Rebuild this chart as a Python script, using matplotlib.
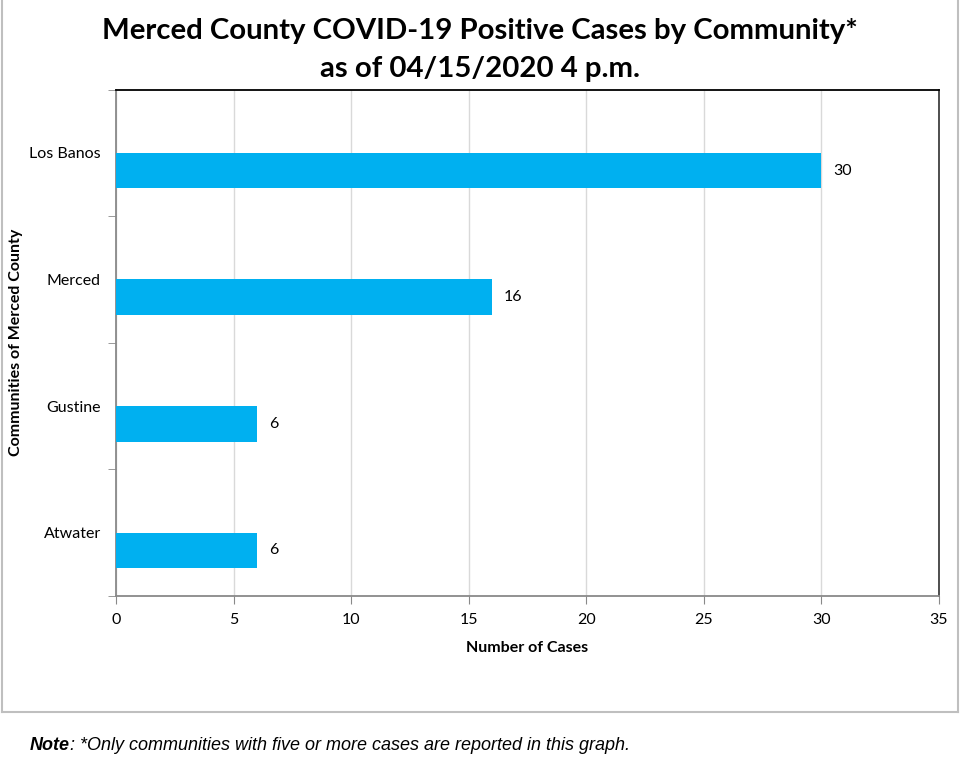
import matplotlib.pyplot as plt
from matplotlib.lines import Line2D

# data
communities = ['Atwater', 'Gustine', 'Merced', 'Los Banos']
cases = [6, 6, 16, 30]
x_ticks = [0, 5, 10, 15, 20, 25, 30, 35]

plt.rcParams['font.family'] = ['Lato', 'DejaVu Sans']

fig = plt.figure(figsize=(9.6, 7.59), dpi=100)
ax = fig.add_axes([116/960, 1-596/759, (939-116)/960, (596-89.5)/759])

y = list(range(len(communities)))
bar_h = 0.28
# bars sit just below the category centre, like the Excel original
ax.barh(y, cases, height=-bar_h, align='edge', color='#00B0F0', zorder=3)

for yi, v in zip(y, cases):
    ax.text(v + 0.5, yi - bar_h / 2, str(v), va='center', ha='left', fontsize=11.5, color='black')

ax.set_xlim(0, 35)
ax.set_ylim(-0.5, len(communities) - 0.5)
ax.set_xticks(x_ticks)
ax.set_xticklabels([str(t) for t in x_ticks], fontsize=11.5)
ax.set_yticks(y)
ax.set_yticklabels(communities, fontsize=11.5)
ax.tick_params(axis='y', which='major', length=0, pad=11)
ax.tick_params(axis='x', length=6, color='#898989', pad=6)

# tick marks between categories on y axis
ax.set_yticks([i - 0.5 for i in range(len(communities) + 1)], minor=True)
ax.tick_params(axis='y', which='minor', length=6, color='#898989')

ax.grid(True, axis='x', color='#D9D9D9', linewidth=1, zorder=0)

ax.spines['top'].set_color('black')
ax.spines['right'].set_color('#404040')
ax.spines['left'].set_color('#898989')
ax.spines['bottom'].set_color('#898989')
for s in ax.spines.values():
    s.set_linewidth(1.3)

ax.set_xlabel('Number of Cases', fontsize=11.5, fontweight='bold', labelpad=10)
ax.set_ylabel('Communities of Merced County', fontsize=11.5, fontweight='bold')
ax.yaxis.set_label_coords(-(116 - 23) / 823, 0.5)

fig.text(0.5, 1-31/759, 'Merced County COVID-19 Positive Cases by Community*',
         ha='center', va='center', fontsize=21.2, fontweight='bold')
fig.text(0.5, 1-69/759, 'as of 04/15/2020 4 p.m.',
         ha='center', va='center', fontsize=21.2, fontweight='bold')

# outer chart frame (top edge cut off)
fc = '#BFBFBF'
fig.add_artist(Line2D([1.5/960, 1.5/960], [1, 1-712/759], color=fc, lw=1.5, transform=fig.transFigure))
fig.add_artist(Line2D([958/960, 958/960], [1, 1-712/759], color=fc, lw=1.5, transform=fig.transFigure))
fig.add_artist(Line2D([1.5/960, 958/960], [1-712/759, 1-712/759], color=fc, lw=1.5, transform=fig.transFigure))

note_bold = fig.text(30/960, 1-745/759, 'Note', fontsize=13, fontweight='bold', fontstyle='italic',
                     va='center', ha='left', family='Liberation Sans')
fig.canvas.draw()
bb = note_bold.get_window_extent()
fig.text(bb.x1/960, 1-745/759, ': *Only communities with five or more cases are reported in this graph.',
         fontsize=13, fontstyle='italic', va='center', ha='left', family='Liberation Sans')

fig.savefig('out.png', dpi=100)
